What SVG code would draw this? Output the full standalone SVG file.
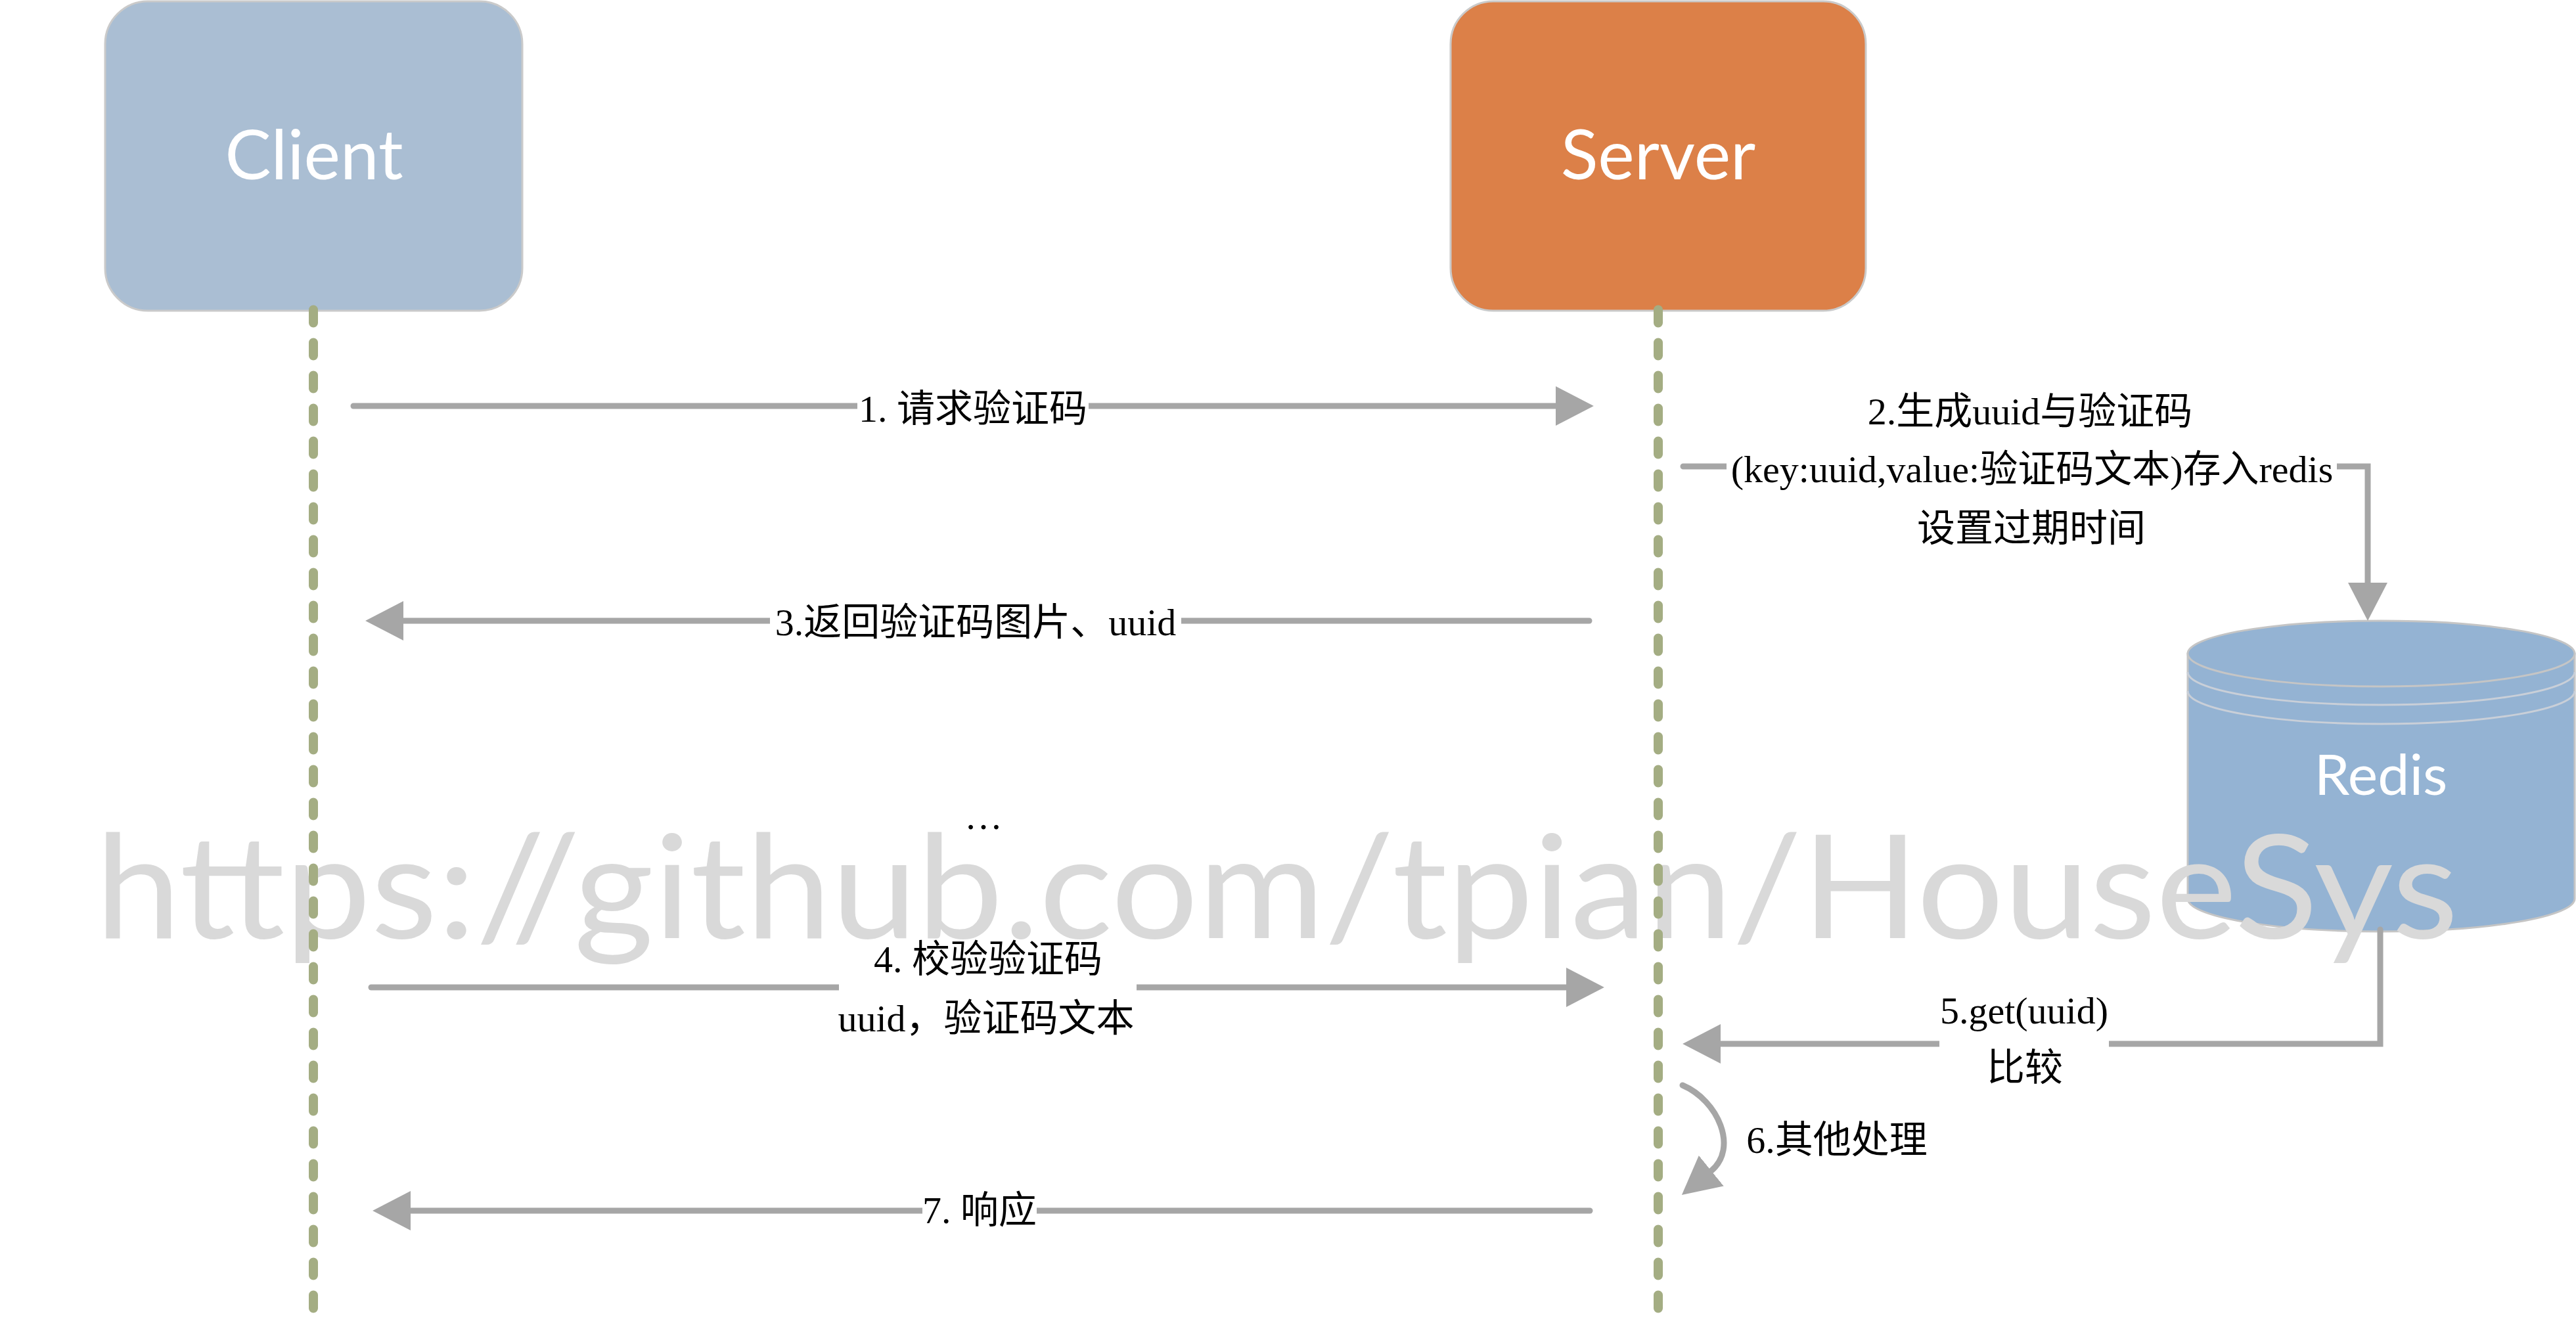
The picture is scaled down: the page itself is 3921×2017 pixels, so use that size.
<svg xmlns="http://www.w3.org/2000/svg" width="3921" height="2017" viewBox="0 0 3921 2017">
<defs>
<style>
.lbl{font-family:"Liberation Serif","Noto Sans CJK SC",serif;font-size:58px;fill:#000;text-anchor:middle}
.conn{stroke:#A6A6A6;fill:none;stroke-width:9;stroke-linecap:round}
.life{stroke:#A4AD83;stroke-width:14;stroke-dasharray:20 30;stroke-linecap:round;fill:none}
.title{font-family:Lato,"Open Sans",sans-serif;fill:#fff;text-anchor:middle}
.bg{fill:#fff}
.band{fill:none;stroke:#C9CFD8;stroke-width:3}
</style>
<marker id="ah" markerUnits="userSpaceOnUse" markerWidth="60" markerHeight="60" viewBox="0 0 58 58" refX="1" refY="29" orient="auto">
<path d="M0,0 L56,29 L0,58 Z" fill="#A6A6A6"/>
</marker>
</defs>
<rect width="3921" height="2017" fill="#fff"/>

<g id="client">
<rect x="160" y="2" width="635" height="471" rx="65" ry="65" fill="#AABED3" stroke="#CACACA" stroke-width="3"/>
<text class="title" x="478" y="273" font-size="105">Client</text>
</g>

<g id="server">
<rect x="2208" y="2" width="632" height="471" rx="65" ry="65" fill="#DC8048" stroke="#CACACA" stroke-width="3"/>
<text class="title" x="2524" y="273" font-size="105">Server</text>
</g>

<g id="redis">
<path d="M3330,995 L3330,1368 A294.5,50 0 0 0 3919,1368 L3919,995 Z" fill="#94B3D3" stroke="#C5C5C5" stroke-width="3"/>
<ellipse cx="3624.5" cy="995" rx="294.5" ry="50" fill="#94B3D3" stroke="#C5C5C5" stroke-width="3"/>
<path class="band" d="M3330,1023 A294.5,50 0 0 0 3919,1023"/>
<path class="band" d="M3330,1052 A294.5,50 0 0 0 3919,1052"/>
<text class="title" x="3624" y="1210" font-size="86">Redis</text>
</g>

<g id="connectors">
<path class="conn" d="M538,618 H2369" marker-end="url(#ah)"/>
<path class="conn" d="M2562,710 H3604 V888" stroke-linecap="butt" stroke-linejoin="miter" marker-end="url(#ah)"/>
<path class="conn" d="M2419,945 H613" marker-end="url(#ah)"/>
<path class="conn" d="M565,1503 H2385" marker-end="url(#ah)"/>
<path class="conn" d="M3623,1415 V1589 H2618" stroke-linecap="butt" stroke-linejoin="miter" marker-end="url(#ah)"/>
<path class="conn" d="M2561,1652 C2615,1675 2647,1748 2604,1783" stroke-width="8" marker-end="url(#ah)"/>
<path class="conn" d="M2420,1843 H624" marker-end="url(#ah)"/>
</g>

<g id="labels">
<rect class="bg" x="1305" y="590" width="352" height="60"/>
<text class="lbl" x="1481" y="642">1. 请求验证码</text>

<text class="lbl" x="3090" y="646">2.生成uuid与验证码</text>
<rect class="bg" x="2628" y="695" width="929" height="32"/>
<text class="lbl" x="3093" y="734">(key:uuid,value:验证码文本)存入redis</text>
<text class="lbl" x="3092" y="824">设置过期时间</text>

<rect class="bg" x="1172" y="915" width="626" height="60"/>
<text class="lbl" x="1485" y="967">3.返回验证码图片、uuid</text>

<text class="lbl" x="1497" y="1262">…</text>

<rect class="bg" x="1277" y="1480" width="453" height="45"/>
<text class="lbl" x="1504" y="1480">4. 校验验证码</text>
<text class="lbl" x="1501" y="1570">uuid，验证码文本</text>

<rect class="bg" x="2952" y="1565" width="258" height="45"/>
<text class="lbl" x="3081" y="1558">5.get(uuid)</text>
<text class="lbl" x="3082" y="1645">比较</text>

<text class="lbl" x="2796" y="1755">6.其他处理</text>

<rect class="bg" x="1404" y="1815" width="174" height="56"/>
<text class="lbl" x="1491" y="1862">7. 响应</text>
</g>

<text x="145" y="1428" font-family="Lato,'Open Sans',sans-serif" font-size="220" fill="#D9D9D9" textLength="3597" lengthAdjust="spacingAndGlyphs">https://github.com/tpian/HouseSys</text>

<g id="lifelines">
<line class="life" x1="477" y1="471.5" x2="477" y2="2010"/>
<line class="life" x1="2524" y1="471.5" x2="2524" y2="2010"/>
</g>
</svg>
